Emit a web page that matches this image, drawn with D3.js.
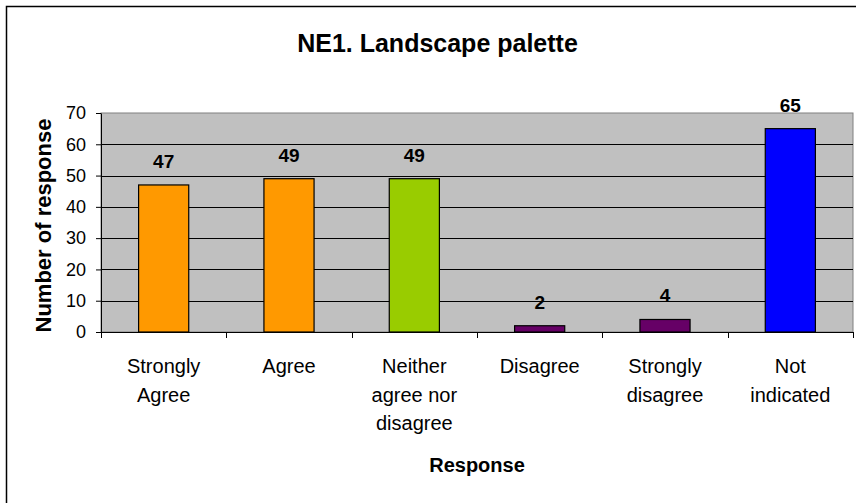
<!DOCTYPE html>
<html>
<head>
<meta charset="utf-8">
<script src="https://cdn.jsdelivr.net/npm/d3@7"></script>
<style>
  html, body { margin: 0; padding: 0; background: #fff; }
  svg { display: block; font-family: "Liberation Sans", Arial, sans-serif; }
</style>
</head>
<body>
<svg id="chart" width="856" height="503"></svg>
<script>
// ---- data ----
const categories = ["Strongly Agree", "Agree", "Neither agree nor disagree", "Disagree", "Strongly disagree", "Not indicated"];
const categoryLines = [["Strongly", "Agree"], ["Agree"], ["Neither", "agree nor", "disagree"], ["Disagree"], ["Strongly", "disagree"], ["Not", "indicated"]];
const values = [47, 49, 49, 2, 4, 65];
const barColors = ["#FF9900", "#FF9900", "#99CC00", "#660066", "#660066", "#0000FF"];
const yTicks = [0, 10, 20, 30, 40, 50, 60, 70];
const titleText = "NE1. Landscape palette";
const xTitle = "Response";
const yTitle = "Number of response";

// ---- layout ----
const svg = d3.select("#chart");
const plot = { left: 101, right: 853, top: 113, bottom: 332 };

// outer chart border (extends beyond the visible image on right and bottom)
svg.append("rect")
  .attr("x", 6.5).attr("y", 6.5)
  .attr("width", 900).attr("height", 600)
  .attr("fill", "#fff").attr("stroke", "#000").attr("stroke-width", 1.5);

const x = d3.scaleBand()
  .domain(categories)
  .range([plot.left, plot.right])
  .paddingInner(0.6)
  .paddingOuter(0.3);

const xEdge = d3.scaleLinear().domain([0, categories.length]).range([plot.left, plot.right]);

const y = d3.scaleLinear().domain([0, 70]).range([plot.bottom, plot.top]);

// plot background
svg.append("rect")
  .attr("x", plot.left).attr("y", plot.top)
  .attr("width", plot.right - plot.left).attr("height", plot.bottom - plot.top)
  .attr("fill", "#C0C0C0").attr("stroke", "#808080").attr("stroke-width", 1);

// gridlines
svg.append("g").selectAll("line")
  .data(yTicks.filter(t => t > 0 && t < 70))
  .join("line")
  .attr("x1", plot.left).attr("x2", plot.right)
  .attr("y1", d => Math.round(y(d)) + 0.5).attr("y2", d => Math.round(y(d)) + 0.5)
  .attr("stroke", "#000").attr("stroke-width", 1);

// bars
svg.append("g").selectAll("rect")
  .data(values)
  .join("rect")
  .attr("x", (d, i) => x(categories[i]))
  .attr("y", d => y(d))
  .attr("width", x.bandwidth())
  .attr("height", d => y(0) - y(d))
  .attr("fill", (d, i) => barColors[i])
  .attr("stroke", "#000").attr("stroke-width", 1.2);

// data labels
svg.append("g").selectAll("text")
  .data(values)
  .join("text")
  .attr("x", (d, i) => x(categories[i]) + x.bandwidth() / 2)
  .attr("y", d => y(d) - 17)
  .attr("text-anchor", "middle")
  .attr("font-size", 19).attr("font-weight", "bold")
  .attr("fill", "#000")
  .text(d => d);

// y axis
const yAxis = d3.axisLeft(y).tickValues(yTicks).tickSize(5).tickPadding(10).tickSizeOuter(0);
const gy = svg.append("g").attr("transform", `translate(${plot.left},0)`).call(yAxis);
gy.selectAll("text").attr("font-size", 18).attr("fill", "#000").attr("font-family", "Liberation Sans, Arial, sans-serif");
gy.selectAll("line, path").attr("stroke", "#000");

// x axis line + boundary ticks
svg.append("line")
  .attr("x1", plot.left).attr("x2", plot.right)
  .attr("y1", plot.bottom + 0.5).attr("y2", plot.bottom + 0.5)
  .attr("stroke", "#000");
svg.append("g").selectAll("line")
  .data(d3.range(categories.length + 1))
  .join("line")
  .attr("x1", d => Math.round(xEdge(d)) + 0.5).attr("x2", d => Math.round(xEdge(d)) + 0.5)
  .attr("y1", plot.bottom).attr("y2", plot.bottom + 6)
  .attr("stroke", "#000");

// category labels
const catG = svg.append("g").selectAll("text")
  .data(categoryLines)
  .join("text")
  .attr("text-anchor", "middle")
  .attr("font-size", 20).attr("fill", "#000");
catG.each(function(lines, i) {
  const cx = x(categories[i]) + x.bandwidth() / 2;
  d3.select(this).selectAll("tspan")
    .data(lines)
    .join("tspan")
    .attr("x", cx)
    .attr("y", (l, j) => 373 + j * 28.5)
    .text(l => l);
});

// title
svg.append("text")
  .attr("x", 437.5).attr("y", 52)
  .attr("text-anchor", "middle")
  .attr("font-size", 25).attr("font-weight", "bold")
  .text(titleText);

// axis titles
svg.append("text")
  .attr("x", (plot.left + plot.right) / 2).attr("y", 472)
  .attr("text-anchor", "middle")
  .attr("font-size", 20).attr("font-weight", "bold")
  .text(xTitle);

svg.append("text")
  .attr("transform", `translate(51,${(118 + 333) / 2}) rotate(-90)`)
  .attr("text-anchor", "middle")
  .attr("font-size", 22).attr("font-weight", "bold")
  .text(yTitle);
</script>
</body>
</html>
